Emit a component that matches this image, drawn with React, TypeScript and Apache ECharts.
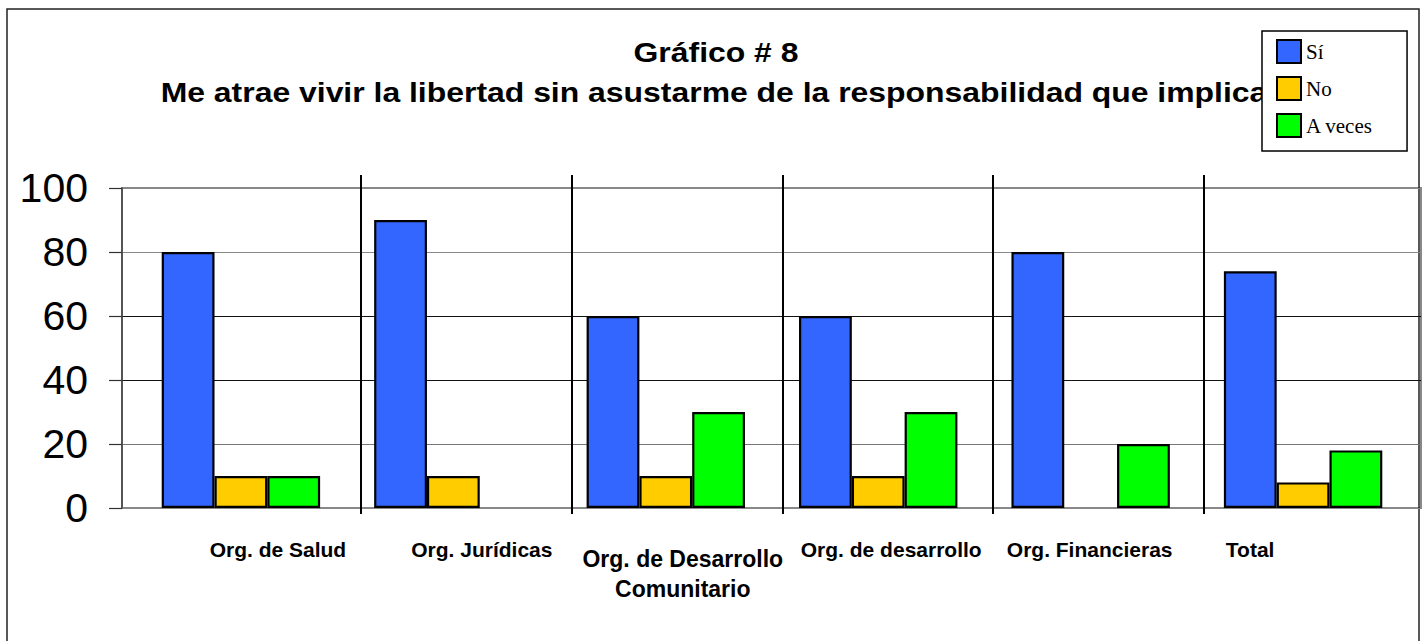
import React, { useEffect, useRef } from 'react';
import * as echarts from 'echarts';

const categories = [
  'Org. de Salud',
  'Org. Jurídicas',
  'Org. de Desarrollo\nComunitario',
  'Org. de desarrollo',
  'Org. Financieras',
  'Total',
];
const seriesNames = ['Sí', 'No', 'A veces'];
const siValues = [80, 90, 60, 60, 80, 74];
const noValues = [10, 10, 10, 10, 0, 8];
const aVecesValues = [10, 0, 30, 30, 20, 18];
const yTicks = [0, 20, 40, 60, 80, 100];
const titleLines = [
  'Gráfico # 8',
  'Me atrae vivir la libertad sin asustarme de la responsabilidad que implica',
];

// label placement styles (as in the original picture)
const labelPadding = [
  [0, 0, 0, 74],
  [0, 0, 0, 57],
  [6, 0, 0, 34],
  [0, 0, 0, 26],
  [0, 2, 0, 0],
  [0, 106, 0, 0],
];
const colors = ['#3366FF', '#FFCC00', '#00FF00'];
const SANS = '"Liberation Sans", Arial, Helvetica, sans-serif';
const SERIF = '"Liberation Serif", "Times New Roman", serif';

export default function App() {
  const ref = useRef<HTMLDivElement>(null);
  useEffect(() => {
    if (!ref.current) return;
    const chart = echarts.init(ref.current, undefined, { renderer: 'svg' });
    const values = [siValues, noValues, aVecesValues];
    const yMin = yTicks[0];
    const yMax = yTicks[yTicks.length - 1];
    const yInt = yTicks[1] - yTicks[0];
    // separators sit between consecutive categories
    const separators = categories.slice(1);
    const option: any = {
      animation: false,
      backgroundColor: '#ffffff',
      graphic: [
        {
          type: 'rect',
          z: 0,
          shape: { x: 7, y: 9, width: 1412, height: 700 },
          style: { fill: 'none', stroke: '#222', lineWidth: 1.5 },
        },
        {
          type: 'text',
          z: 1,
          x: 716,
          y: 52,
          scaleX: 1.14,
          style: {
            text: titleLines[0],
            font: `bold 28px ${SANS}`,
            fill: '#000',
            textAlign: 'center',
            textVerticalAlign: 'middle',
          },
        },
        {
          type: 'text',
          z: 1,
          x: 714,
          y: 92,
          scaleX: 1.14,
          style: {
            text: titleLines[1],
            font: `bold 28px ${SANS}`,
            fill: '#000',
            textAlign: 'center',
            textVerticalAlign: 'middle',
          },
        },
      ],
      legend: {
        z: 10,
        data: seriesNames,
        orient: 'vertical',
        left: 1262,
        top: 31,
        itemWidth: 24,
        itemHeight: 23,
        itemGap: 12,
        padding: [8, 34, 13, 14],
        borderColor: '#000',
        borderWidth: 1.5,
        backgroundColor: '#fff',
        icon: 'rect',
        textStyle: { fontFamily: SERIF, fontSize: 21, color: '#000' },
      },
      grid: [
        {
          left: 122,
          top: 188,
          width: 1299,
          height: 320,
          show: true,
          borderColor: '#888',
          borderWidth: 2,
          backgroundColor: 'transparent',
        },
        { left: 134.7, top: 188, width: 1274.6, height: 320 },
        { left: 255.6, top: 175, width: 210.75 * 5, height: 339 },
      ],
      xAxis: [
        { gridIndex: 0, type: 'category', data: categories, show: false },
        {
          gridIndex: 1,
          type: 'category',
          data: categories.map((c, i) => ({
            value: c,
            textStyle: {
              padding: labelPadding[i],
              ...(i === 2 ? { fontSize: 23, lineHeight: 30 } : {}),
            },
          })),
          axisLine: { show: false },
          axisTick: { show: false },
          axisLabel: {
            interval: 0,
            margin: 29.5,
            fontFamily: SANS,
            fontWeight: 'bold',
            fontSize: 21,
            lineHeight: 24,
            color: '#000',
          },
        },
        {
          gridIndex: 2,
          type: 'category',
          data: separators,
          axisLine: { show: false },
          axisLabel: { show: false },
          splitLine: { show: false },
          axisTick: {
            show: true,
            inside: true,
            alignWithLabel: true,
            interval: 0,
            length: 339,
            lineStyle: { color: '#000', width: 2 },
          },
        },
      ],
      yAxis: [
        {
          gridIndex: 0,
          type: 'value',
          min: yMin,
          max: yMax,
          interval: yInt,
          axisLine: { show: true, lineStyle: { color: '#444', width: 1.5 } },
          axisTick: { show: true, length: 13, lineStyle: { color: '#333', width: 1.2 } },
          axisLabel: { margin: 34, fontFamily: SANS, fontSize: 41, color: '#000' },
          splitLine: {
            show: true,
            lineStyle: { color: ['#888', '#777', '#111', '#111', '#888', '#888'], width: 1.2 },
          },
        },
        { gridIndex: 1, type: 'value', min: yMin, max: yMax, show: false },
        { gridIndex: 2, type: 'value', min: 0, max: 1, show: false },
      ],
      series: seriesNames.map((name, si) => ({
        name,
        type: 'bar',
        xAxisIndex: 1,
        yAxisIndex: 1,
        barWidth: 52.8,
        barGap: '0%',
        itemStyle: { color: colors[si], borderColor: '#000', borderWidth: 2.2 },
        data: values[si].map((v) => (v === 0 ? '-' : v)),
      })),
    };
    chart.setOption(option);
    return () => chart.dispose();
  }, []);
  return (
    <div
      ref={ref}
      style={{ position: 'absolute', left: 0, top: 0, width: 1424, height: 641, background: '#fff' }}
    />
  );
}
